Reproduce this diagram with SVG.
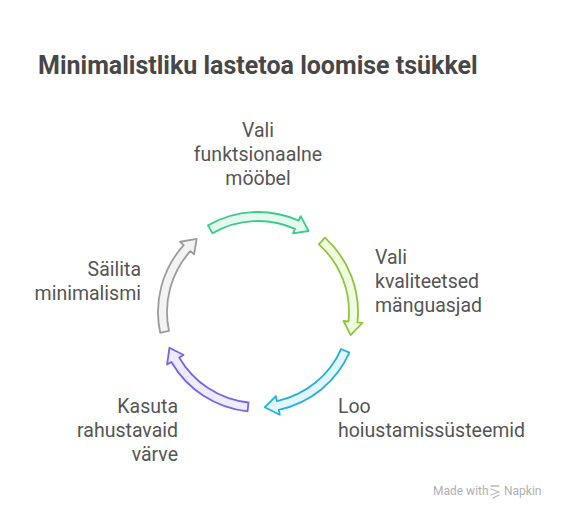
<svg xmlns="http://www.w3.org/2000/svg" width="563" height="515" viewBox="0 0 563 515">
<defs>
<style>
.title{font-family:Roboto,"Liberation Sans",sans-serif;font-weight:bold;font-size:25px;fill:#474747}
.lbl{font-family:Roboto,"Liberation Sans",sans-serif;font-size:19.5px;fill:#555555}
.foot{font-family:Roboto,"Liberation Sans",sans-serif;font-size:12px;fill:#b0b0b0}
.arr{stroke-width:1.8;stroke-linejoin:round}
</style>
<path id="arrowShape" d="M100,0 A100,100 0 0 1 58.78,80.90 L61.72,84.95 L44.84,84.32 L50.55,69.58 L53.49,73.62 A91,91 0 0 0 91,0 Z"/>
</defs>
<rect width="563" height="515" fill="#ffffff"/>
<text class="title" x="38" y="74">Minimalistliku lastetoa loomise tsükkel</text>
<g id="connectors">
<use href="#arrowShape" class="arr" transform="translate(258,312) rotate(-120)" fill="#e4faee" stroke="#3ccb8c"/>
<use href="#arrowShape" class="arr" transform="translate(258,312) rotate(-48)" fill="#f1fbdf" stroke="#8cc63e"/>
<use href="#arrowShape" class="arr" transform="translate(258,312) rotate(24)" fill="#e3f6fc" stroke="#22b1df"/>
<use href="#arrowShape" class="arr" transform="translate(258,312) rotate(96)" fill="#efebfe" stroke="#7b62e8"/>
<use href="#arrowShape" class="arr" transform="translate(258,312) rotate(168)" fill="#f3f3f3" stroke="#9c9c9c"/>
</g>
<g id="node-mooobel">
<text class="lbl" x="258" y="137" text-anchor="middle">Vali</text>
<text class="lbl" x="258" y="161" text-anchor="middle">funktsionaalne</text>
<text class="lbl" x="258" y="185" text-anchor="middle">mööbel</text>
</g>
<g id="node-manguasjad">
<text class="lbl" x="375" y="264">Vali</text>
<text class="lbl" x="375" y="288">kvaliteetsed</text>
<text class="lbl" x="375" y="312">mänguasjad</text>
</g>
<g id="node-hoiustamine">
<text class="lbl" x="338" y="413">Loo</text>
<text class="lbl" x="338" y="437">hoiustamissüsteemid</text>
</g>
<g id="node-varvid">
<text class="lbl" x="178" y="413" text-anchor="end">Kasuta</text>
<text class="lbl" x="178" y="437" text-anchor="end">rahustavaid</text>
<text class="lbl" x="178" y="461" text-anchor="end">värve</text>
</g>
<g id="node-minimalism">
<text class="lbl" x="141" y="276" text-anchor="end">Säilita</text>
<text class="lbl" x="141" y="300" text-anchor="end">minimalismi</text>
</g>
<g id="footer">
<text class="foot" x="433" y="495">Made with</text>
<path d="M491,486 L499,486 M491,489 L499,492 M491,495 L499,492 M493,498 L499,495" stroke="#b8b8b8" stroke-width="1.3" fill="none" stroke-linecap="round"/>
<text class="foot" x="504" y="495">Napkin</text>
</g>
</svg>
